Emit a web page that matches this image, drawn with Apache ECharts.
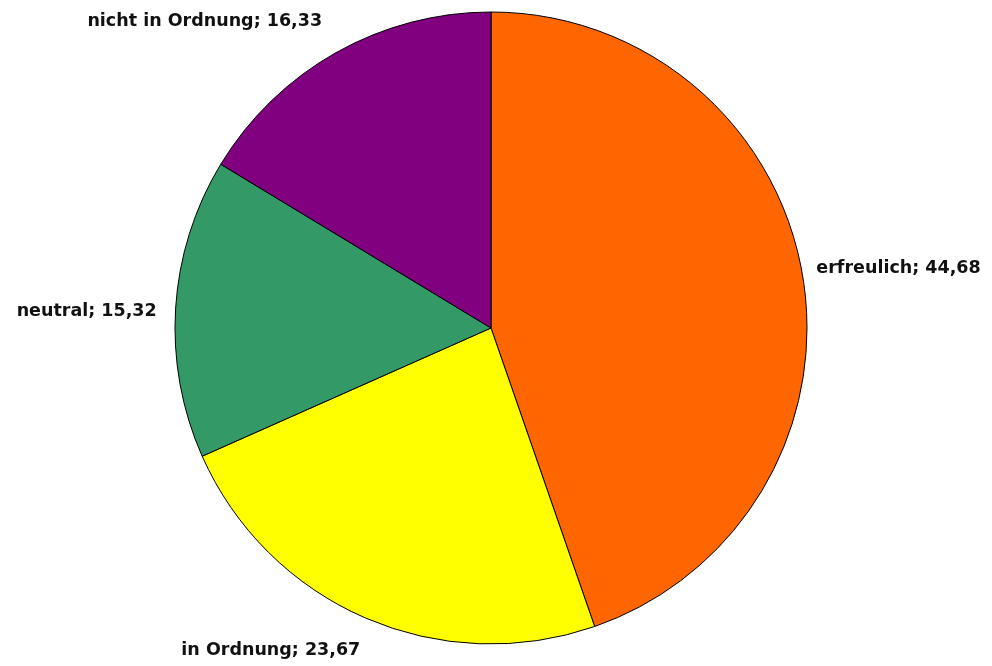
<!DOCTYPE html>
<html>
<head>
<meta charset="utf-8">
<script src="https://cdn.jsdelivr.net/npm/echarts@6/dist/echarts.min.js"></script>
<style>
  html, body { margin: 0; padding: 0; background: #fff; }
  #chart { width: 992px; height: 666px; }
</style>
</head>
<body>
<div id="chart"></div>
<script>
// Daten
var categories = ['erfreulich', 'in Ordnung', 'neutral', 'nicht in Ordnung']
var values = [44.68, 23.67, 15.32, 16.33]
var colors = ['#ff6600', '#ffff00', '#339966', '#800080']

var chart = echarts.init(document.getElementById('chart'))

// kleine Verschiebungen der Beschriftungen, damit sie wie im Original sitzen
var labelShift = [[-11, -4], [8, 14], [6, 5], [1, -14]]

chart.setOption({
  backgroundColor: '#ffffff',
  animation: false,
  series: [
    {
      type: 'pie',
      center: [491, 328],
      radius: 316,
      startAngle: 90,
      clockwise: true,
      avoidLabelOverlap: false,
      itemStyle: {
        borderColor: '#000000',
        borderWidth: 1
      },
      label: {
        position: 'outside',
        color: '#111111',
        fontFamily: 'DejaVu Sans',
        fontWeight: 'bold',
        fontSize: 17.5,
        formatter: function (p) {
          return p.name + '; ' + p.value.toFixed(2).replace('.', ',')
        }
      },
      labelLine: {
        show: false,
        length: 20,
        length2: 0
      },
      labelLayout: function (params) {
        var s = labelShift[params.dataIndex]
        return { dx: s[0], dy: s[1] }
      },
      emphasis: { disabled: true },
      data: categories.map(function (name, i) {
        return { name: name, value: values[i], itemStyle: { color: colors[i] } }
      })
    }
  ]
})
</script>
</body>
</html>
